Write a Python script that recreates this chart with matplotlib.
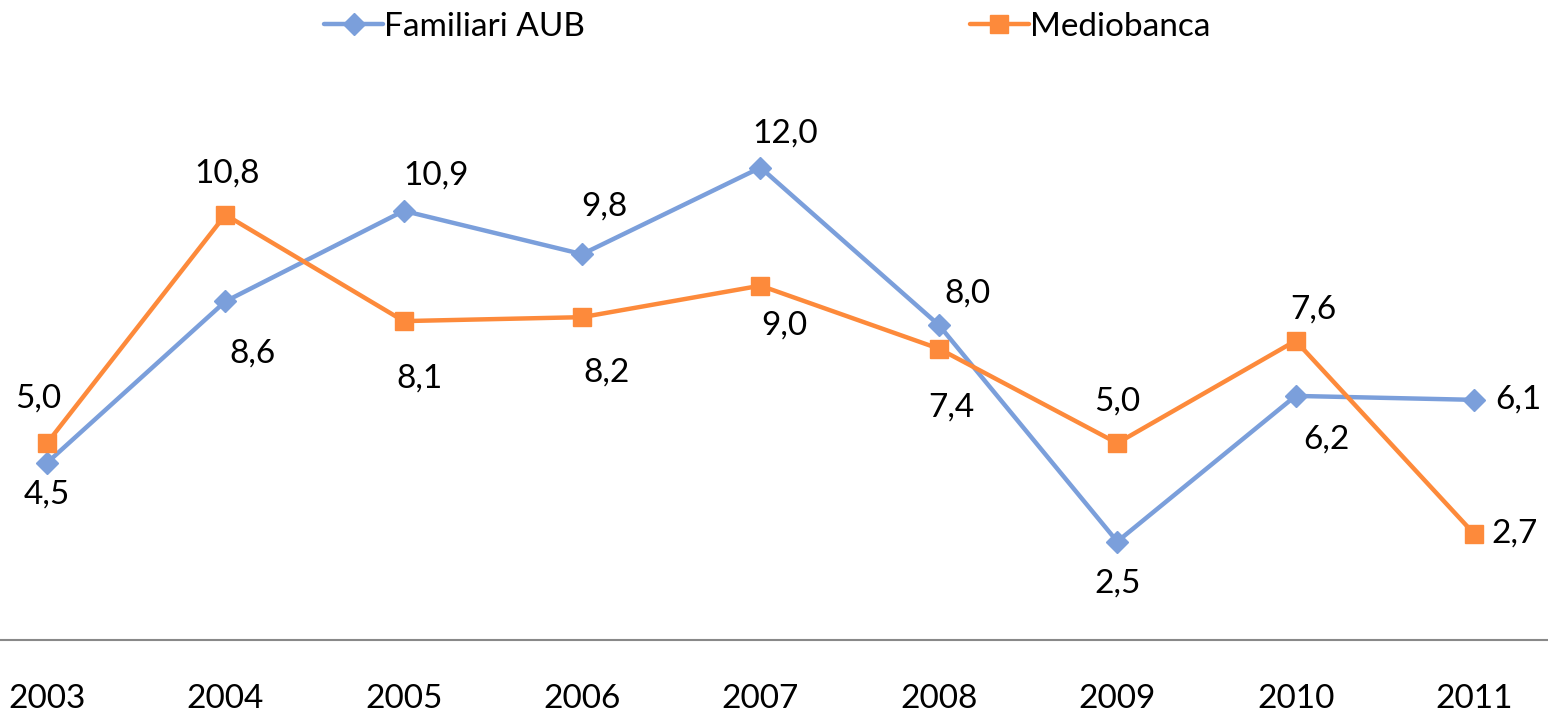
import matplotlib
matplotlib.use("Agg")
import matplotlib.pyplot as plt

years = ["2003", "2004", "2005", "2006", "2007", "2008", "2009", "2010", "2011"]
familiari = [4.5, 8.6, 10.9, 9.8, 12.0, 8.0, 2.5, 6.2, 6.1]
mediobanca = [5.0, 10.8, 8.1, 8.2, 9.0, 7.4, 5.0, 7.6, 2.7]

# label offsets in pixels (dx, dy) relative to point
fam_off = [(0, -32), (27, -52), (32, 35), (22, 48), (25, 34), (29, 32), (0, -42), (31, -44), (44, 0)]
med_off = [(-9, 45), (2, 41), (16, -57), (24, -55), (24, -40), (13, -59), (0, 42), (18, 31), (41, 0)]

blue = "#7B9FDB"
orange = "#FD8A3B"
FONT = "Lato"
FS = 24

W, H, DPI = 1548, 714, 100
fig = plt.figure(figsize=(W / DPI, H / DPI), dpi=DPI)
ax = fig.add_axes([0, 74 / H, 1, (640 - 80) / H])

x = list(range(len(years)))
ax.plot(x, familiari, color=blue, lw=3.2, marker="D", ms=11, mec=blue, mfc=blue,
        label="Familiari AUB", solid_capstyle="round")
ax.plot(x, mediobanca, color=orange, lw=3.2, marker="s", ms=13.5, mec=orange, mfc=orange,
        label="Mediobanca", solid_capstyle="round")

def fmt(v):
    return f"{v:.1f}".replace(".", ",")

for xi, v, (dx, dy) in zip(x, familiari, fam_off):
    ax.annotate(fmt(v), (xi, v), xytext=(dx, dy), textcoords="offset pixels",
                ha="center", va="center", fontsize=FS, family=FONT, color="black")
for xi, v, (dx, dy) in zip(x, mediobanca, med_off):
    ax.annotate(fmt(v), (xi, v), xytext=(dx, dy), textcoords="offset pixels",
                ha="center", va="center", fontsize=FS, family=FONT, color="black")

step = (1474 - 47) / 8
ax.set_xlim(-47 / step, 8 + (W - 1474) / step)
ax.set_ylim(0, (640 - 80) / 39.37)

for s in ["top", "right", "left"]:
    ax.spines[s].set_visible(False)
ax.spines["bottom"].set_color("#898989")
ax.spines["bottom"].set_linewidth(1.5)
ax.set_yticks([])
ax.set_xticks(x)
ax.set_xticklabels(years, fontsize=FS, family=FONT)
ax.tick_params(axis="x", length=0, pad=32)

leg = fig.legend(loc="center", bbox_to_anchor=(767.5 / W, 1 - 27 / H), ncol=2, frameon=False,
                 prop={"family": FONT, "size": FS}, handlelength=1.75, handletextpad=0.05,
                 columnspacing=11.55)

fig.savefig("out.png", dpi=DPI)
